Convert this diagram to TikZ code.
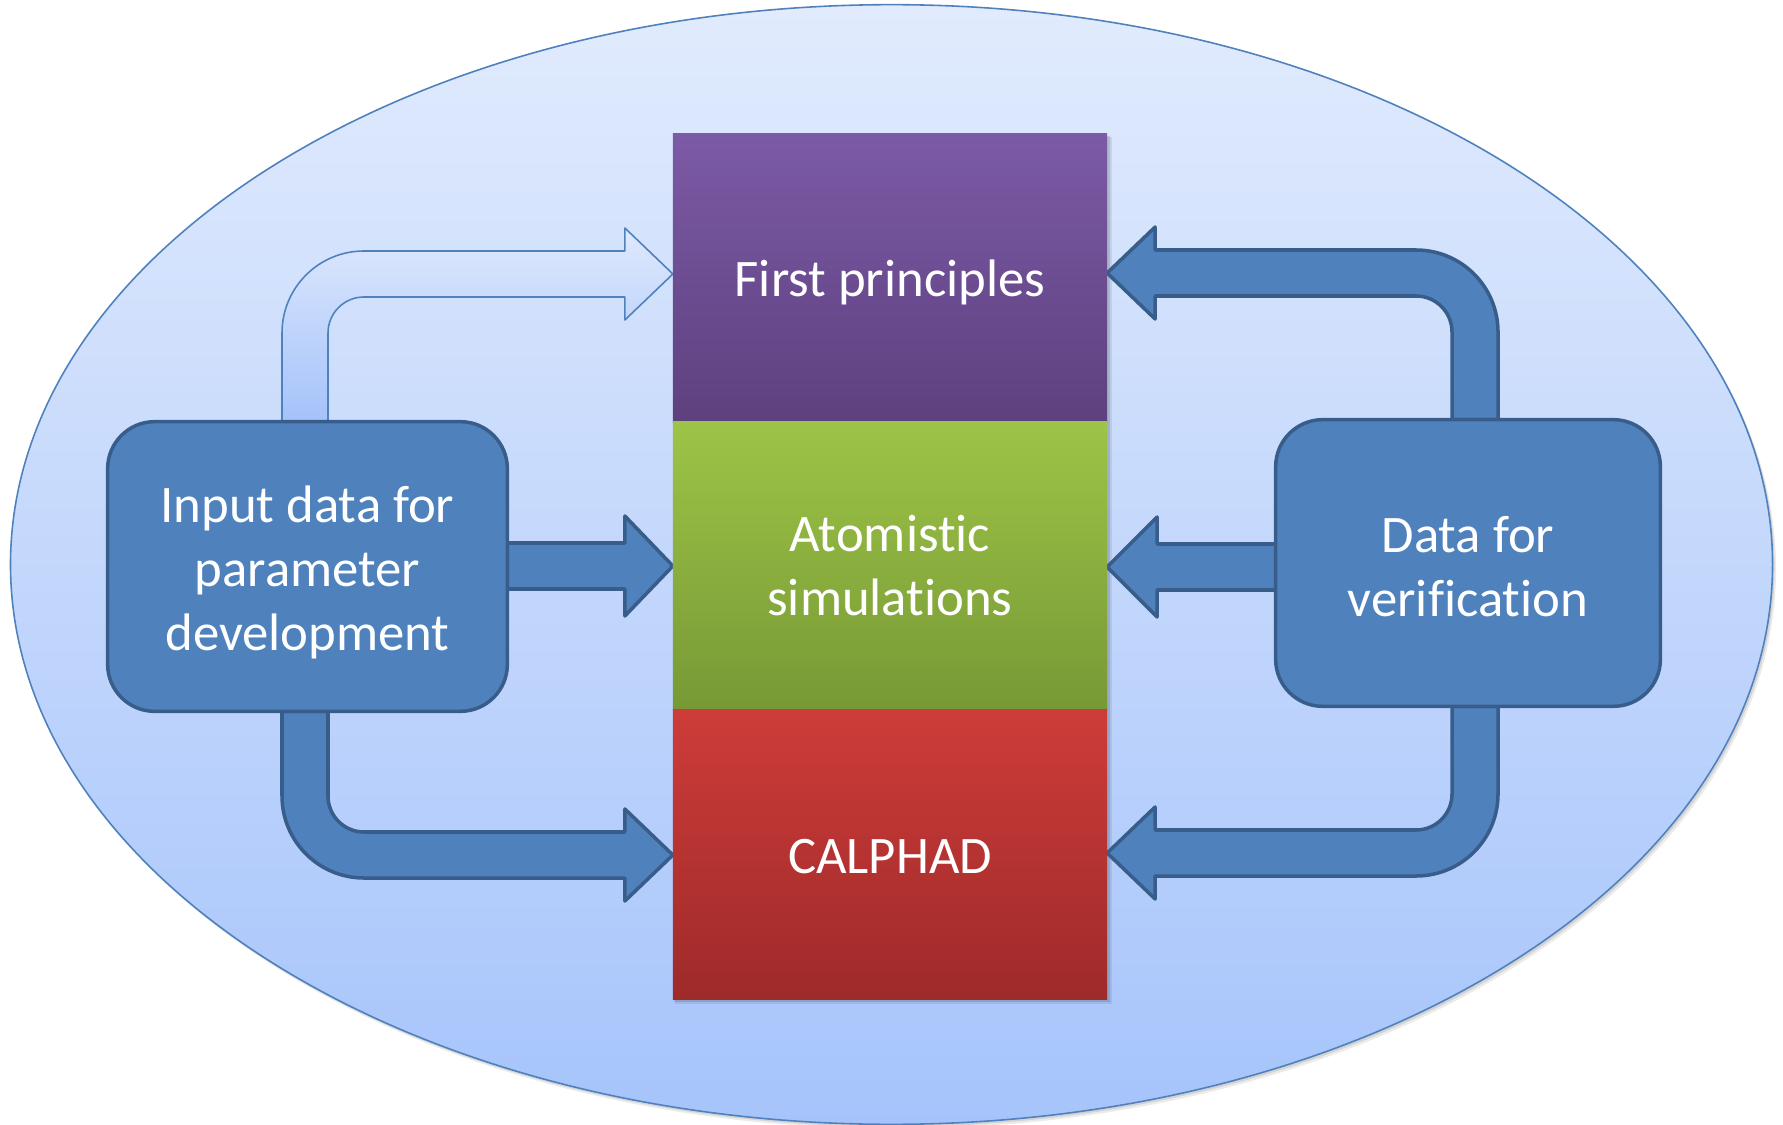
\documentclass[tikz,border=0pt]{standalone}
\usepackage{fontspec}
\setmainfont{Carlito}[Ligatures={NoCommon}]
\usetikzlibrary{calc}
\pgfdeclarelayer{backdrop}
\pgfdeclarelayer{links}
\pgfsetlayers{backdrop,links,main}

\definecolor{ovalTop}{HTML}{E1EBFD}
\definecolor{ovalBot}{HTML}{A6C4FB}
\definecolor{ovalEdge}{HTML}{4F81BD}
\definecolor{blockFill}{HTML}{4F81BD}
\definecolor{blockEdge}{HTML}{385D8A}
\definecolor{fpTop}{HTML}{7C5AA6}
\definecolor{fpBot}{HTML}{5E407E}
\definecolor{asTop}{HTML}{9DC447}
\definecolor{asBot}{HTML}{779935}
\definecolor{cpTop}{HTML}{CD3C39}
\definecolor{cpBot}{HTML}{9E2A2A}
\definecolor{lightTop}{HTML}{DFE9FD}
\definecolor{lightBot}{HTML}{A4C2FA}

% Bent block arrow: #1 name prefix, #2 style, #3 start (shaft centre on box edge),
% #4 tip, #5 horizontal sense (+1 right, -1 left), #6 vertical sense (+1 down, -1 up)
\newcommand{\bentblock}[6]{%
  \coordinate (#1C) at (#3 |- #4);
  \path[#2]
    ($(#3)+({#5*(-23)},0)$)
    -- ($(#1C)+({#5*(-23)},{#6*(-59)})$)
    .. controls ($(#1C)+({#5*(-23)},{#6*(-13.7)})$) and ($(#1C)+({#5*13.7},{#6*23})$)
    .. ($(#1C)+({#5*59},{#6*23})$)
    -- ($(#4)+({#5*(-48)},{#6*23})$)
    -- ($(#4)+({#5*(-48)},{#6*46})$)
    -- (#4)
    -- ($(#4)+({#5*(-48)},{#6*(-46)})$)
    -- ($(#4)+({#5*(-48)},{#6*(-23)})$)
    -- ($(#1C)+({#5*59},{#6*(-23)})$)
    .. controls ($(#1C)+({#5*39.1},{#6*(-23)})$) and ($(#1C)+({#5*23},{#6*(-39.1)})$)
    .. ($(#1C)+({#5*23},{#6*(-59)})$)
    -- ($(#3)+({#5*23},0)$)
    -- cycle;
}

\begin{document}
\begin{tikzpicture}[x=0.01cm,y=-0.01cm,
  txt/.style={text=white, font=\fontsize{15pt}{18.2pt}\selectfont, align=center},
  band/.style={txt, rectangle, inner sep=0pt, outer sep=0pt, minimum width=4.34cm},
  oneline/.style={text height=13.8pt, text depth=3pt},
  databox/.style={txt, rectangle, rounded corners=0.47cm, fill=blockFill,
    draw=blockEdge, line width=1pt, inner sep=0pt, outer sep=0pt},
  blockarrow/.style={fill=blockFill, draw=blockEdge, line width=1pt, line join=round},
  lightarrow/.style={top color=lightTop, bottom color=lightBot, draw=ovalEdge,
    line width=0.45pt, line join=round},
]
\useasboundingbox (0,0) rectangle (1783,1125);

% backdrop oval with a soft shadow, and the shadow of the column
\begin{pgfonlayer}{backdrop}
  \fill[black,opacity=0.08] (895,569) ellipse [x radius=8.805cm, y radius=5.595cm];
  \fill[black,opacity=0.10] (893.5,567) ellipse [x radius=8.805cm, y radius=5.595cm];
  \shade[top color=ovalTop, bottom color=ovalBot, draw=ovalEdge, line width=0.45pt]
    (891.5,564.5) ellipse [x radius=8.805cm, y radius=5.595cm];
  \fill[black,opacity=0.08] (675,137) rectangle (1112,1004);
  \fill[black,opacity=0.12] (674,136) rectangle (1110,1002);
\end{pgfonlayer}

% the three methods
\node[band, oneline, minimum height=2.88cm, top color=fpTop, bottom color=fpBot]
  (fp) at (890,278) {First principles};
\node[band, minimum height=2.88cm, top color=asTop, bottom color=asBot]
  (as) at (890,566) {Atomistic\\simulations};
\node[band, oneline, minimum height=2.89cm, top color=cpTop, bottom color=cpBot]
  (cp) at (890,854.5) {CALPHAD};

% data sources
\node[databox, minimum width=3.995cm, minimum height=2.895cm]
  (inp) at (307.5,566.5) {\rule{0pt}{13.6pt}Input data for\\parameter\\development};
\node[databox, minimum width=3.845cm, minimum height=2.865cm]
  (ver) at (1468,563) {\rule{0pt}{12.2pt}Data for\\verification};

% block arrows, kept beneath the boxes
\begin{pgfonlayer}{links}
  \coordinate (inTop) at ($(inp.north)+(-2.5,0)$);
  \coordinate (inBot) at ($(inp.south)+(-2.5,0)$);
  \coordinate (verTop) at ($(ver.north)+(7,0)$);
  \coordinate (verBot) at ($(ver.south)+(7,0)$);
  \coordinate (fpL) at ($(fp.west)+(0,-4)$);
  \coordinate (fpR) at ($(fp.east)+(0,-5)$);
  \coordinate (cpL) at ($(cp.west)+(0,0.5)$);
  \coordinate (cpR) at ($(cp.east)+(0,-1.5)$);

  \bentblock{a}{lightarrow}{inTop}{fpL}{1}{-1}
  \bentblock{b}{blockarrow}{inBot}{cpL}{1}{1}
  \bentblock{c}{blockarrow}{verTop}{fpR}{-1}{-1}
  \bentblock{d}{blockarrow}{verBot}{cpR}{-1}{1}

  \coordinate (mlS) at (inp.east |- as.west);
  \path[blockarrow] ($(mlS)+(-10,-23)$) -- ($(as.west)+(-48,-23)$)
    -- ($(as.west)+(-48,-50)$) -- (as.west) -- ($(as.west)+(-48,50)$)
    -- ($(as.west)+(-48,23)$) -- ($(mlS)+(-10,23)$) -- cycle;

  \coordinate (mrT) at ($(as.east)+(0,1)$);
  \coordinate (mrS) at (ver.west |- mrT);
  \path[blockarrow] ($(mrS)+(10,-23)$) -- ($(mrT)+(50,-23)$)
    -- ($(mrT)+(50,-50)$) -- (mrT) -- ($(mrT)+(50,50)$)
    -- ($(mrT)+(50,23)$) -- ($(mrS)+(10,23)$) -- cycle;
\end{pgfonlayer}
\end{tikzpicture}
\end{document}
